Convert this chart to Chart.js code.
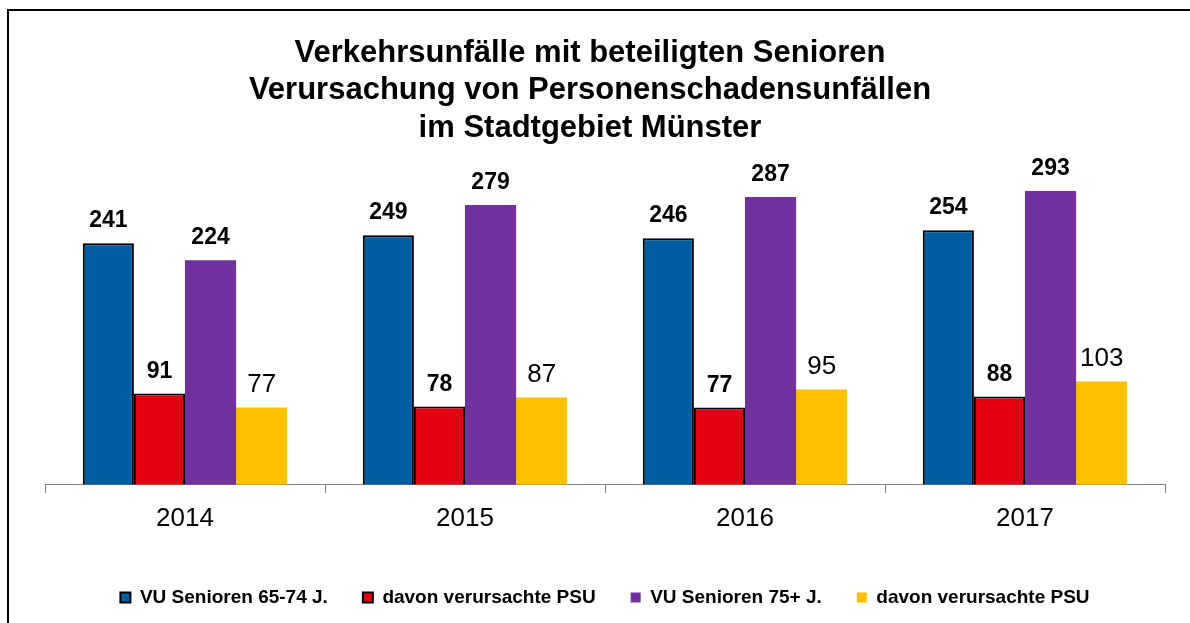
<!DOCTYPE html>
<html lang="de">
<head>
    <meta charset="UTF-8">
    <title>Verkehrsunfälle mit beteiligten Senioren</title>
    <script src="https://cdn.jsdelivr.net/npm/chart.js"></script>
    <style>
        body { margin: 0; background: #fff; overflow: hidden; }
    </style>
</head>
<body>
    <canvas id="unfallChart" width="1190" height="623"></canvas>

    <script>
        const years = ['2014', '2015', '2016', '2017'];
        const senioren6574 = [241, 249, 246, 254];
        const psu6574 = [91, 78, 77, 88];
        const senioren75 = [224, 279, 287, 293];
        const psu75 = [77, 87, 95, 103];
        const titleLines = [
            'Verkehrsunfälle mit beteiligten Senioren',
            'Verursachung von Personenschadensunfällen',
            'im Stadtgebiet Münster'
        ];

        const font = '"Liberation Sans", Arial, sans-serif';

        // frame, title and value labels drawn on the canvas
        const decor = {
            id: 'decor',
            beforeDraw(chart) {
                const c = chart.ctx;
                c.save();
                c.fillStyle = '#fff';
                c.fillRect(0, 0, chart.width, chart.height);
                c.strokeStyle = '#000';
                c.lineWidth = 2;
                c.beginPath();
                c.moveTo(8, chart.height + 5);
                c.lineTo(8, 10);
                c.lineTo(chart.width + 5, 10);
                c.stroke();

                c.fillStyle = '#000';
                c.font = 'bold 31px ' + font;
                c.textAlign = 'center';
                c.textBaseline = 'middle';
                titleLines.forEach((t, i) => c.fillText(t, 590, 53 + i * 37.5));
                c.restore();
            },
            afterDatasetsDraw(chart) {
                const c = chart.ctx;
                c.save();
                c.fillStyle = '#000';
                c.textAlign = 'center';
                c.textBaseline = 'alphabetic';
                chart.data.datasets.forEach((ds, i) => {
                    c.font = (i < 3 ? 'bold 23px ' : '26px ') + font;
                    chart.getDatasetMeta(i).data.forEach((bar, j) => {
                        c.fillText(ds.data[j], bar.x, bar.y - 16);
                    });
                });
                c.restore();
            }
        };

        const ctx = document.getElementById('unfallChart').getContext('2d');
        const chart = new Chart(ctx, {
            type: 'bar',
            data: {
                labels: years,
                datasets: [
                    { label: 'VU Senioren 65-74 J.', data: senioren6574, backgroundColor: '#005DA2', borderColor: '#000', borderWidth: 2 },
                    { label: 'davon verursachte PSU', data: psu6574, backgroundColor: '#E30013', borderColor: '#000', borderWidth: 2 },
                    { label: 'VU Senioren 75+ J.', data: senioren75, backgroundColor: '#7030A0', borderWidth: 0 },
                    { label: 'davon verursachte PSU', data: psu75, backgroundColor: '#FFC000', borderWidth: 0 }
                ]
            },
            options: {
                responsive: false,
                animation: false,
                categoryPercentage: 0.73,
                barPercentage: 1.0,
                layout: {
                    padding: { top: 154, left: 45, right: 25, bottom: 6 }
                },
                scales: {
                    x: {
                        afterFit: (scale) => { scale.height += 9; },
                        grid: {
                            drawOnChartArea: false,
                            tickLength: 8,
                            color: '#808080'
                        },
                        border: { color: '#808080', width: 1 },
                        ticks: {
                            color: '#000',
                            padding: 10,
                            font: { family: font, size: 26 }
                        }
                    },
                    y: {
                        display: false,
                        min: 0,
                        max: 330
                    }
                },
                plugins: {
                    legend: {
                        position: 'bottom',
                        labels: {
                            color: '#000',
                            boxWidth: 10,
                            boxHeight: 10,
                            padding: 35,
                            font: { family: font, size: 19, weight: 'bold' }
                        }
                    },
                    tooltip: { enabled: false }
                }
            },
            plugins: [decor]
        });
    </script>
</body>
</html>
